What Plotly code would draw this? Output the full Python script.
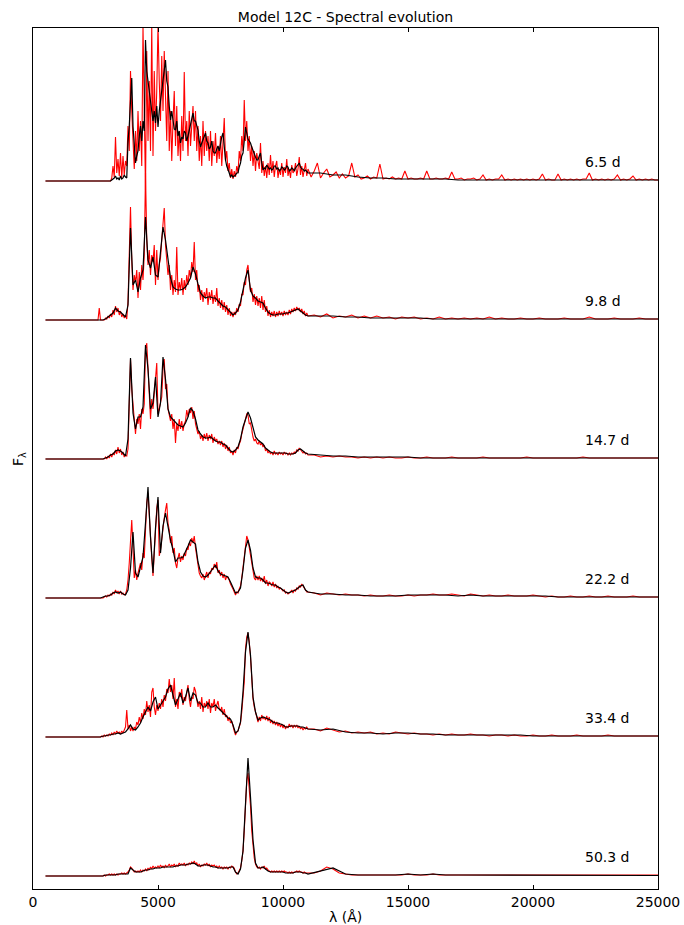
import plotly.graph_objects as go

# ---------------- data (flux, in plot-pixel units) ----------------
EPOCH_LABELS = ["6.5 d", "9.8 d", "14.7 d", "22.2 d", "33.4 d", "50.3 d"]

# wavelength grids (Angstrom)
WL_START = 500
WL_BLK_A = list(range(2500, 11001, 100))      # 86 points
WL_BLK_B = list(range(11500, 25001, 500))     # 28 points
WL_RED_A = list(range(2500, 11001, 50))       # 171 points
WL_RED_B = list(range(11250, 25001, 250))     # 56 points
WL_RED_B_FINE = list(range(11125, 25001, 125))  # 112 points (6.5 d only)

# ---- 6.5 d ----  (black sampled on the 50 A grid)
BLK_A_65 = [0, 0, 0, 0, 0, 0, 0, 0, 0, 0,
            0, 0, 0, 1, 2, 3, 5, 2, 3, 1,
            5, 2, 3, 6, 4, 3, 40, 55, 80, 103,
            55, 30, 18, 25, 30, 45, 55, 40, 60, 50,
            141, 110, 100, 85, 78, 65, 60, 70, 58, 75,
            54, 70, 80, 94, 105, 112, 121, 100, 94, 75,
            61, 70, 58, 52, 51, 60, 45, 50, 38, 44,
            42, 50, 48, 40, 45, 52, 55, 62, 68, 60,
            60, 55, 51, 40, 34, 38, 42, 46, 48, 40,
            38, 32, 34, 40, 30, 28, 28, 32, 35, 30,
            40, 44, 48, 30, 21, 15, 12, 8, 4, 6,
            4, 5, 6, 8, 8, 14, 18, 25, 28, 40,
            54, 48, 42, 40, 38, 34, 30, 26, 24, 21,
            21, 25, 28, 18, 11, 13, 12, 16, 14, 12,
            13, 11, 12, 15, 15, 12, 13, 10, 11, 14,
            13, 11, 12, 15, 14, 10, 11, 13, 12, 10,
            13, 15, 16, 18, 14, 12, 12, 10, 11, 9,
            8]
BLK_B_65 = [8, 6, 6, 4, 3, 3, 2, 2, 2, 2,
            2, 1, 1, 1, 1, 1, 1, 1, 1, 1,
            1, 1, 1, 1, 1, 1, 1, 1]
RED_A_65 = [0, 0, 0, 0, 0, 0, 0, 0, 0, 0,
            0, 0, 0, 3, 15, 4, 44, 8, 22, 5,
            28, 3, 25, 6, 20, 15, 55, 30, 110, 70,
            40, 12, 50, 20, 70, 30, 60, 15, 155, 60,
            -9, 130, 40, 100, 30, 155, 25, 110, 50, 90,
            155, 100, 60, 125, 70, 130, 80, 40, 110, 30,
            70, 20, 60, 90, 35, 75, 25, 50, 20, 65,
            30, 109, 40, 60, 25, 70, 35, 55, 75, 40,
            70, 30, 55, 20, 45, 15, 60, 25, 50, 30,
            45, 20, 50, 15, 40, 25, 48, 18, 35, 22,
            45, 15, 40, 63, 20, 30, 10, 18, 3, 12,
            2, 10, 4, 15, 8, 30, 20, 45, 30, 81,
            40, 60, 30, 45, 20, 35, 15, 30, 10, 28,
            20, 12, 38, 8, 20, 5, 15, 3, 18, 6,
            26, 8, 20, 4, 15, 20, 3, 12, 6, 18,
            4, 14, 8, 22, 5, 12, 3, 16, 8, 10,
            18, 5, 12, 24, 6, 15, 4, 10, 18, 5,
            12]
RED_B_65 = [4, 10, 18, 3, 8, 12, 4, 6, 9, 3,
            7, 3, 5, 18, 4, 6, 2, 3, 5, 2,
            4, 3, 17, 2, 3, 2, 4, 2, 3, 2,
            10, 2, 3, 2, 2, 3, 2, 10, 2, 2,
            3, 2, 2, 3, 2, 9, 2, 2, 3, 1,
            2, 2, 3, 1, 2, 6, 1, 2, 1, 2,
            2, 6, 1, 2, 1, 2, 1, 2, 1, 2,
            1, 2, 1, 2, 7, 1, 2, 1, 1, 7,
            1, 2, 1, 2, 1, 2, 1, 2, 2, 8,
            1, 2, 1, 2, 1, 2, 1, 2, 6, 1,
            2, 1, 2, 5, 1, 2, 1, 2, 1, 2,
            1, 1]

# ---- 9.8 d ----
BLK_A_98 = [0, 0, 0, 0, 1, 3, 5, 7, 12, 9,
            8, 5, 3, 15, 92, 35, 40, 28, 42, 50,
            103, 60, 52, 63, 45, 43, 65, 93, 80, 60,
            42, 33, 31, 30, 30, 31, 33, 37, 42, 53,
            46, 36, 27, 24, 22, 23, 23, 22, 22, 19,
            16, 14, 13, 10, 7, 5, 7, 10, 18, 30,
            42, 50, 30, 24, 22, 19, 18, 17, 12, 8,
            6, 5, 5, 6, 6, 6, 7, 7, 8, 9,
            10, 11, 9, 7, 5, 4]
BLK_B_98 = [4, 4, 3, 3, 2, 2, 2, 2, 2, 1,
            1, 1, 1, 1, 1, 1, 1, 1, 1, 1,
            1, 1, 1, 1, 1, 1, 1, 1]
RED_A_98 = [0, 0, 0, 12, 0, 0, 0, 0, 2, 1,
            4, 2, 6, 3, 10, 5, 14, 8, 12, 5,
            9, 3, 6, 2, 5, 1, 18, 60, 113, 60,
            30, 45, 38, 50, 22, 48, 30, 55, 40, 65,
            147, 80, 55, 70, 45, 65, 58, 75, 35, 70,
            40, 55, 62, 80, 95, 112, 75, 60, 45, 55,
            30, 45, 25, 40, 28, 73, 25, 38, 30, 42,
            25, 40, 30, 45, 35, 50, 42, 58, 48, 78,
            40, 50, 28, 35, 20, 30, 18, 28, 22, 32,
            15, 28, 20, 30, 16, 25, 18, 32, 14, 22,
            12, 20, 10, 18, 8, 15, 5, 12, 4, 8,
            3, 8, 5, 12, 8, 16, 14, 26, 25, 38,
            35, 50, 55, 40, 28, 32, 18, 26, 15, 24,
            14, 22, 12, 24, 10, 20, 8, 14, 4, 10,
            3, 8, 4, 9, 3, 8, 4, 9, 5, 8,
            4, 9, 5, 8, 5, 10, 6, 11, 8, 12,
            9, 13, 10, 12, 8, 11, 6, 9, 4, 7,
            4]
RED_B_98 = [5, 3, 6, 2, 4, 3, 5, 2, 4, 2,
            4, 2, 3, 1, 3, 2, 3, 1, 2, 1,
            3, 1, 2, 1, 2, 1, 2, 1, 3, 1,
            2, 1, 1, 2, 1, 1, 2, 1, 1, 1,
            2, 1, 1, 1, 3, 1, 1, 1, 2, 1,
            1, 1, 2, 1, 1, 1]

# ---- 14.7 d ----
BLK_A_147 = [0, 0, 0, 0, 1, 2, 4, 5, 8, 9,
             8, 6, 3, 20, 101, 46, 30, 42, 42, 52,
             114, 90, 50, 56, 82, 42, 56, 102, 80, 50,
             42, 39, 36, 34, 33, 32, 36, 42, 51, 48,
             40, 29, 25, 22, 21, 21, 22, 20, 18, 17,
             17, 15, 14, 11, 8, 7, 9, 12, 20, 32,
             40, 47, 41, 30, 22, 19, 17, 15, 11, 9,
             7, 6, 6, 6, 6, 6, 6, 5, 5, 5,
             6, 9, 10, 8, 6, 5]
BLK_B_147 = [4, 3, 3, 2, 2, 2, 2, 2, 1, 1,
             1, 1, 1, 1, 1, 1, 1, 1, 1, 1,
             1, 1, 1, 1, 1, 1, 1, 1]
RED_A_147 = [0, 0, 0, 0, 0, 0, 0, 0, 2, 0,
             3, 1, 5, 2, 6, 4, 9, 5, 12, 6,
             10, 4, 7, 2, 4, 3, 10, 45, 100, 70,
             55, 35, 25, 40, 35, 45, 30, 50, 45, 55,
             110, 116, 85, 55, 40, 60, 50, 65, 80, 96,
             45, 50, 55, 62, 90, 100, 70, 75, 50, 45,
             38, 45, 30, 40, 16, 35, 28, 40, 30, 38,
             28, 35, 38, 49, 42, 50, 46, 52, 40, 48,
             35, 30, 25, 28, 20, 24, 18, 25, 20, 26,
             18, 24, 20, 25, 16, 22, 18, 20, 15, 18,
             14, 18, 12, 16, 10, 14, 8, 12, 6, 8,
             4, 9, 6, 12, 10, 15, 18, 25, 30, 38,
             42, 45, 44, 35, 36, 28, 22, 18, 20, 16,
             15, 18, 14, 16, 12, 14, 8, 10, 6, 8,
             5, 7, 4, 8, 5, 6, 4, 7, 5, 6,
             4, 7, 5, 6, 4, 6, 4, 6, 5, 7,
             6, 9, 8, 11, 9, 8, 6, 7, 5, 6,
             4]
RED_B_147 = [4, 2, 3, 2, 3, 2, 2, 1, 2, 1,
             2, 1, 2, 1, 1, 2, 1, 1, 2, 1,
             1, 1, 2, 1, 1, 1, 1, 2, 1, 1,
             1, 1, 1, 1, 2, 1, 1, 1, 1, 1,
             1, 1, 1, 2, 1, 1, 1, 1, 1, 1,
             1, 1, 1, 1, 1, 1]

# ---- 22.2 d ----
BLK_A_222 = [0, 0, 0, 1, 2, 2, 3, 5, 6, 5,
             6, 4, 3, 8, 30, 66, 25, 21, 31, 41,
             75, 111, 61, 25, 70, 101, 45, 72, 85, 70,
             58, 48, 36, 40, 40, 41, 46, 52, 58, 56,
             54, 36, 26, 22, 21, 23, 26, 30, 33, 27,
             24, 23, 22, 21, 16, 11, 5, 6, 10, 28,
             50, 58, 48, 30, 21, 20, 20, 18, 15, 15,
             14, 13, 13, 11, 10, 8, 6, 5, 6, 7,
             8, 10, 12, 13, 8, 6]
BLK_B_222 = [4, 4, 3, 3, 2, 2, 2, 3, 3, 3,
             3, 2, 3, 2, 2, 2, 2, 2, 2, 1,
             1, 1, 1, 1, 1, 1, 1, 1]
RED_A_222 = [0, 0, 0, 0, 0, 0, 0, 1, 2, 1,
             3, 2, 4, 3, 6, 4, 8, 5, 7, 4,
             7, 4, 5, 3, 4, 8, 18, 35, 60, 78,
             50, 20, 28, 18, 25, 30, 35, 28, 45, 40,
             78, 95, 105, 80, 60, 40, 22, 45, 68, 90,
             98, 42, 48, 60, 70, 80, 88, 95, 75, 68,
             55, 62, 45, 50, 35, 30, 40, 45, 36, 42,
             38, 45, 42, 50, 48, 55, 52, 60, 55, 62,
             50, 40, 32, 25, 22, 20, 24, 18, 22, 26,
             20, 26, 24, 30, 28, 34, 30, 36, 25, 28,
             22, 26, 20, 24, 18, 22, 20, 18, 14, 12,
             9, 6, 3, 6, 5, 9, 12, 20, 30, 42,
             55, 62, 58, 50, 42, 32, 24, 20, 18, 22,
             18, 22, 17, 20, 16, 22, 14, 18, 12, 16,
             15, 12, 16, 11, 14, 10, 12, 9, 10, 8,
             7, 8, 5, 6, 4, 5, 6, 8, 5, 8,
             7, 10, 9, 12, 11, 14, 12, 9, 7, 6,
             6]
RED_B_222 = [5, 3, 5, 4, 3, 4, 3, 3, 2, 3,
             2, 2, 3, 2, 2, 3, 2, 3, 3, 4,
             3, 3, 4, 3, 2, 4, 3, 2, 3, 2,
             2, 3, 2, 2, 2, 3, 2, 1, 2, 1,
             1, 2, 1, 1, 2, 1, 1, 2, 1, 1,
             1, 2, 1, 1, 1, 1]

# ---- 33.4 d ----
BLK_A_334 = [0, 0, 0, 1, 1, 2, 2, 3, 3, 4,
             3, 4, 5, 8, 12, 8, 7, 10, 14, 20,
             25, 30, 26, 35, 40, 28, 32, 36, 40, 48,
             52, 42, 32, 38, 44, 34, 40, 49, 36, 44,
             42, 34, 34, 30, 30, 34, 30, 30, 32, 29,
             27, 24, 22, 19, 18, 12, 4, 6, 15, 45,
             85, 105, 82, 40, 25, 17, 19, 20, 19, 18,
             17, 15, 14, 14, 13, 12, 10, 10, 11, 11,
             11, 11, 10, 10, 9, 8]
BLK_B_334 = [7, 8, 5, 4, 4, 3, 4, 4, 3, 3,
             2, 2, 2, 2, 2, 2, 2, 1, 1, 1,
             1, 1, 1, 1, 1, 1, 1, 1]
RED_A_334 = [0, 0, 0, 0, 0, 1, 0, 2, 1, 2,
             1, 3, 2, 4, 2, 5, 3, 6, 4, 5,
             3, 6, 4, 7, 10, 27, 8, 12, 6, 10,
             6, 10, 8, 15, 12, 20, 14, 24, 18, 28,
             22, 36, 25, 32, 20, 45, 49, 30, 22, 32,
             26, 34, 28, 38, 30, 42, 36, 48, 44, 58,
             45, 52, 38, 59, 30, 38, 28, 45, 40, 48,
             32, 40, 36, 45, 52, 38, 30, 40, 38, 50,
             46, 38, 30, 36, 28, 40, 25, 34, 30, 36,
             28, 38, 24, 34, 30, 38, 26, 32, 36, 28,
             26, 30, 22, 28, 20, 22, 16, 20, 14, 16,
             10, 6, 2, 5, 6, 10, 14, 25, 40, 55,
             88, 100, 104, 95, 80, 55, 38, 30, 24, 18,
             15, 20, 16, 22, 18, 20, 17, 21, 16, 20,
             14, 17, 13, 16, 12, 15, 11, 14, 10, 13,
             9, 12, 8, 11, 9, 13, 10, 12, 9, 12,
             10, 12, 9, 11, 8, 10, 7, 9, 8, 10,
             8]
RED_B_334 = [8, 6, 9, 7, 5, 6, 4, 5, 4, 5,
             3, 4, 3, 5, 4, 3, 4, 3, 3, 2,
             3, 2, 3, 2, 2, 3, 2, 2, 1, 2,
             2, 1, 2, 1, 1, 2, 1, 1, 2, 1,
             1, 1, 2, 1, 1, 1, 1, 2, 1, 1,
             1, 1, 1, 1, 1, 1]

# ---- 50.3 d ----
BLK_A_503 = [0, 0, 0, 0, 1, 1, 1, 1, 1, 2,
             2, 2, 2, 2, 8, 6, 4, 4, 4, 5,
             6, 6, 7, 7, 8, 8, 8, 9, 9, 9,
             9, 9, 10, 10, 11, 11, 11, 12, 12, 13,
             12, 10, 10, 11, 11, 11, 10, 9, 9, 8,
             8, 8, 8, 8, 9, 9, 4, 2, 7, 25,
             72, 118, 79, 36, 13, 8, 8, 9, 7, 5,
             4, 4, 4, 4, 4, 4, 3, 3, 3, 3,
             4, 4, 4, 3, 3, 2]
BLK_B_503 = [5, 8, 2, 1, 1, 1, 1, 2, 1, 2,
             1, 1, 1, 1, 1, 1, 1, 1, 1, 1,
             1, 0.5, 0.5, 0.5, 0.5, 0.5, 0.5, 0.5]
RED_A_503 = [0, 0, 0, 0, 0, 0, 0, 1, 0, 1,
             1, 2, 1, 2, 1, 2, 1, 2, 1, 2,
             2, 3, 2, 3, 2, 3, 4, 6, 9, 8,
             6, 4, 5, 4, 5, 4, 6, 4, 6, 5,
             7, 5, 8, 6, 9, 7, 10, 8, 9, 8,
             10, 8, 11, 9, 10, 8, 11, 9, 10, 12,
             9, 11, 10, 12, 9, 11, 10, 13, 11, 12,
             11, 13, 10, 12, 11, 13, 12, 14, 12, 15,
             12, 13, 10, 12, 9, 11, 10, 12, 11, 13,
             10, 12, 9, 11, 10, 11, 9, 10, 8, 10,
             8, 9, 7, 9, 8, 9, 7, 9, 8, 10,
             9, 8, 4, 2, 3, 6, 8, 15, 25, 45,
             70, 95, 103, 90, 70, 45, 30, 18, 12, 9,
             8, 9, 7, 9, 8, 10, 7, 8, 6, 5,
             4, 5, 4, 5, 4, 5, 4, 5, 4, 5,
             4, 5, 4, 4, 3, 4, 3, 4, 3, 4,
             4, 5, 4, 5, 4, 4, 3, 4, 3, 3,
             3]
RED_B_503 = [3, 5, 9, 7, 3, 2, 1, 1, 1, 1,
             1, 1, 1, 1, 1, 2, 1, 1, 1, 2,
             1, 1, 1, 1, 1, 1, 1, 1, 1, 1,
             1, 1, 1, 1, 1, 1, 1, 1, 1, 1,
             1, 1, 1, 1, 1, 1, 1, 1, 1, 1,
             1, 1, 1, 1, 1, 1]

BLACK_A = [BLK_A_65, BLK_A_98, BLK_A_147, BLK_A_222, BLK_A_334, BLK_A_503]
BLACK_B = [BLK_B_65, BLK_B_98, BLK_B_147, BLK_B_222, BLK_B_334, BLK_B_503]
RED_A = [RED_A_65, RED_A_98, RED_A_147, RED_A_222, RED_A_334, RED_A_503]
RED_B = [RED_B_65, RED_B_98, RED_B_147, RED_B_222, RED_B_334, RED_B_503]

# grids used by each spectrum
GRID_BLACK_A = [WL_RED_A] + [WL_BLK_A] * 5
GRID_RED_B = [WL_RED_B_FINE] + [WL_RED_B] * 5

# ---------------- figure ----------------
FONT = "DejaVu Sans"
STEP = 139          # vertical offset between stacked spectra
N = len(EPOCH_LABELS)


def series(wa, a, wb, b):
    n_a = min(len(wa), len(a))
    n_b = min(len(wb), len(b))
    x = [WL_START] + list(wa[:n_a]) + list(wb[:n_b])
    y = [0] + list(a[:n_a]) + list(b[:n_b])
    return x, y


fig = go.Figure()

for i in range(N):
    off = (N - 1 - i) * STEP
    xr, yr = series(WL_RED_A, RED_A[i], GRID_RED_B[i], RED_B[i])
    fig.add_trace(go.Scatter(x=xr, y=[v + off for v in yr], mode="lines",
                             line=dict(color="#ff0000", width=1.1),
                             hoverinfo="skip", showlegend=False))
    xb, yb = series(GRID_BLACK_A[i], BLACK_A[i], WL_BLK_B, BLACK_B[i])
    fig.add_trace(go.Scatter(x=xb, y=[v + off for v in yb], mode="lines",
                             line=dict(color="#000000", width=1.2),
                             hoverinfo="skip", showlegend=False))
    fig.add_annotation(x=22000, y=off + 19, xref="x", yref="y", text=EPOCH_LABELS[i],
                       showarrow=False, xanchor="left", yanchor="middle",
                       font=dict(family=FONT, size=14, color="black"))

W, H = 684, 925
L, R, T, B = 33, 26, 28, 36
ph = H - T - B

fig.update_layout(
    width=W, height=H,
    margin=dict(l=L, r=R, t=T, b=B, pad=0),
    paper_bgcolor="white", plot_bgcolor="white",
    showlegend=False,
    font=dict(family=FONT, size=14, color="black"),
    title=dict(text="Model 12C - Spectral evolution", x=0.5, xref="paper",
               y=1 - 17 / H, yref="container", xanchor="center", yanchor="middle",
               font=dict(family=FONT, size=14, color="black")),
)
fig.update_xaxes(range=[0, 25000], tickvals=[0, 5000, 10000, 15000, 20000, 25000],
                 ticktext=["0", "5000", "10000", "15000", "20000", "25000"],
                 ticks="inside", ticklen=4, tickwidth=1, tickcolor="black",
                 showline=True, linecolor="black", linewidth=1, mirror="ticks",
                 showgrid=False, zeroline=False,
                 tickfont=dict(family=FONT, size=14, color="black"), automargin=False)
fig.update_yaxes(range=[-13, 848], showticklabels=False, ticks="",
                 showline=True, linecolor="black", linewidth=1, mirror=True,
                 showgrid=False, zeroline=False, automargin=False)

fig.add_annotation(x=0.5, y=-(917 - (H - B)) / ph, xref="paper", yref="paper",
                   text="λ (Å)", showarrow=False, xanchor="center", yanchor="middle",
                   font=dict(family=FONT, size=14, color="black"))
fig.add_annotation(x=-(L - 19) / (W - L - R), y=(H - B - 459) / ph, xref="paper", yref="paper",
                   text="F<sub>λ</sub>", textangle=-90, showarrow=False,
                   xanchor="center", yanchor="middle",
                   font=dict(family=FONT, size=14, color="black"))

fig.write_html("out.html")
